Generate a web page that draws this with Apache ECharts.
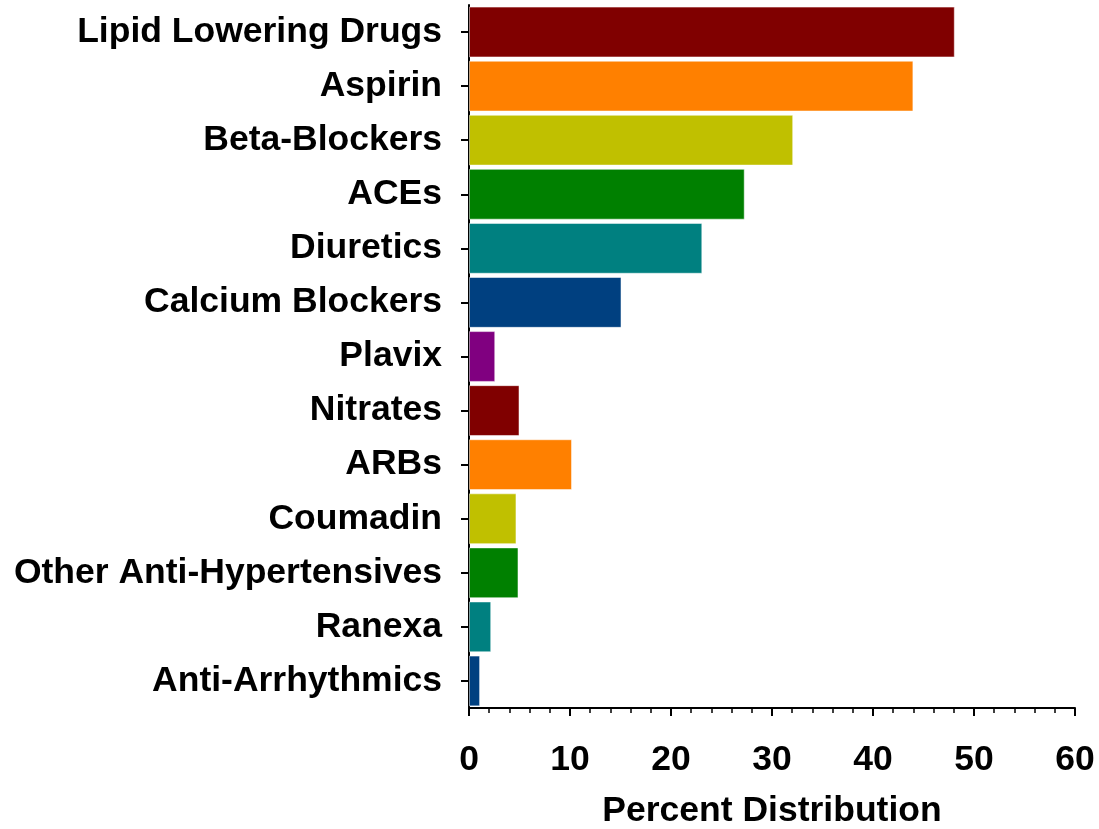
<!DOCTYPE html>
<html>
<head>
<meta charset="utf-8">
<script src="https://cdn.jsdelivr.net/npm/echarts@6/dist/echarts.min.js"></script>
<style>html,body{margin:0;padding:0;background:#fff;}#c{width:1099px;height:829px;}</style>
</head>
<body>
<div id="c"></div>
<script>
const categories = ["Lipid Lowering Drugs","Aspirin","Beta-Blockers","ACEs","Diuretics","Calcium Blockers","Plavix","Nitrates","ARBs","Coumadin","Other Anti-Hypertensives","Ranexa","Anti-Arrhythmics"];
const values = [48.1, 44.0, 32.1, 27.3, 23.1, 15.1, 2.6, 5.0, 10.2, 4.7, 4.9, 2.2, 1.1];
const barColors = ["#800000","#FF8000","#C0C000","#008000","#008080","#004080","#800080","#800000","#FF8000","#C0C000","#008000","#008080","#004080"];
const xTicks = [0,10,20,30,40,50,60];
const xName = "Percent Distribution";

const font = "'Liberation Sans', Arial, sans-serif";
const chart = echarts.init(document.getElementById('c'));
chart.setOption({
  animation: false,
  grid: {left: 469, right: 24, top: 5, bottom: 121, containLabel: false, outerBoundsMode: 'none'},
  xAxis: {
    type: 'value', min: xTicks[0], max: xTicks[xTicks.length-1], interval: 10,
    name: xName, nameLocation: 'middle', nameGap: 85,
    nameTextStyle: {fontFamily: font, fontWeight: 'bold', fontSize: 35.5, color: '#000'},
    axisLine: {show: true, lineStyle: {color: '#000', width: 2}},
    axisTick: {show: true, length: 8, lineStyle: {color: '#000', width: 2}},
    minorTick: {show: true, splitNumber: 5, length: 5, lineStyle: {color: '#000', width: 1.5}},
    splitLine: {show: false},
    axisLabel: {fontFamily: font, fontWeight: 'bold', fontSize: 35.5, color: '#000', margin: 34}
  },
  yAxis: {
    type: 'category', data: categories, inverse: true,
    axisLine: {show: true, lineStyle: {color: '#000', width: 2}},
    axisTick: {show: true, alignWithLabel: true, length: 8, lineStyle: {color: '#000', width: 2}},
    axisLabel: {fontFamily: font, fontWeight: 'bold', fontSize: 35.5, color: '#000', margin: 27}
  },
  series: [{
    type: 'bar',
    data: values.map((v, i) => ({value: v, itemStyle: {color: barColors[i]}})),
    barCategoryGap: '6%',
    itemStyle: {borderColor: 'rgba(255,255,255,0.5)', borderWidth: 1}
  }]
});
</script>
</body>
</html>
